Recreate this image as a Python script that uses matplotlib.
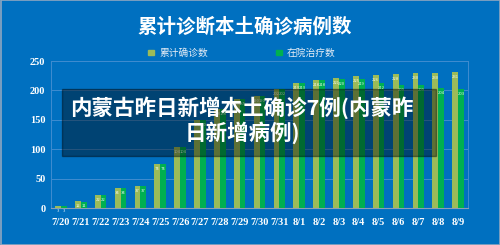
import matplotlib
matplotlib.use("Agg")
import matplotlib.pyplot as plt
from matplotlib.patches import Rectangle
import numpy as np

plt.rcParams["font.family"] = ["Noto Sans CJK SC", "DejaVu Sans"]
plt.rcParams["axes.unicode_minus"] = False

# 数据
dates = ["7/20", "7/21", "7/22", "7/23", "7/24", "7/25", "7/26", "7/27", "7/28", "7/29",
         "7/30", "7/31", "8/1", "8/2", "8/3", "8/4", "8/5", "8/6", "8/7", "8/8", "8/9"]
cumulative = [3, 12, 22, 34, 37, 74, 104, 150, 168, 185, 190, 202, 213, 218, 221, 225,
              226, 228, 230, 230, 231]
in_hospital = [3, 11, 22, 34, 37, 74, 104, 150, 168, 185, 190, 202, 213, 218, 220, 219,
               212, 209, 209, 204, 203]
yticks = [0, 50, 100, 150, 200, 250]

bg = "#0070C0"
c_cum = "#9BBB59"
c_hosp = "#00B050"

fig = plt.figure(figsize=(5, 2.45), dpi=100, facecolor=bg)
ax = fig.add_axes([0.102, 0.151, 0.834, 0.600])
ax.set_facecolor(bg)

x = np.arange(len(dates))
w = 0.29
b1 = ax.bar(x - w / 2, cumulative, w, color=c_cum, zorder=3)
b2 = ax.bar(x + w / 2, in_hospital, w, color=c_hosp, zorder=3)
for bars in (b1, b2):
    ax.bar_label(bars, padding=-5, fontsize=3, color="white", alpha=0.9, zorder=4)

ax.set_xlim(-0.5, len(dates) - 0.5)
ax.set_ylim(0, 250)
ax.set_yticks(yticks)
ax.set_xticks(x)
ax.set_xticklabels(dates)
ax.grid(axis="y", color="#3F8CD0", linewidth=0.7, zorder=0)
for side in ("left", "top", "right"):
    ax.spines[side].set_color("#3F8CD0")
    ax.spines[side].set_linewidth(0.7)
ax.spines["bottom"].set_color("#8A9FB5")
ax.spines["bottom"].set_linewidth(0.8)
ax.tick_params(length=0)
ax.tick_params(axis="x", pad=7)
ax.tick_params(axis="y", pad=4)
for lab in ax.get_xticklabels() + ax.get_yticklabels():
    lab.set_family("Liberation Serif")
    lab.set_fontweight("bold")
    lab.set_fontsize(7.5)
    lab.set_color("white")

# 标题与图例
fig.text(0.49, 0.89, "累计诊断本土确诊病例数", color="white", fontsize=14,
         fontweight="bold", ha="center", va="center")
fig.patches.append(Rectangle((0.296, 0.775), 0.011, 0.022, transform=fig.transFigure,
                             color=c_cum))
fig.text(0.318, 0.786, "累计确诊数", color="#E8EEF6", fontsize=7, ha="left", va="center")
fig.patches.append(Rectangle((0.552, 0.775), 0.011, 0.022, transform=fig.transFigure,
                             color=c_hosp))
fig.text(0.574, 0.786, "在院治疗数", color="#E8EEF6", fontsize=7, ha="left", va="center")

# 覆盖的标题条
fig.patches.append(Rectangle((0.124, 1 - 155.7 / 245), (436 - 62) / 500, (155.7 - 89.3) / 245,
                             transform=fig.transFigure, color="black", alpha=0.4, zorder=5))
fig.text(0.484, 1 - 120 / 245, "内蒙古昨日新增本土确诊7例(内蒙昨\n日新增病例)",
         color="white", fontsize=15.5, fontweight="bold", ha="center", va="center",
         multialignment="center", linespacing=1.1, zorder=6)

fig.patches.append(Rectangle((0.001, 0.002), 0.998, 0.996, transform=fig.transFigure,
                             fill=False, edgecolor="#8FA7C0", linewidth=1.2, zorder=7))

fig.savefig("out.png", dpi=100, facecolor=bg)
